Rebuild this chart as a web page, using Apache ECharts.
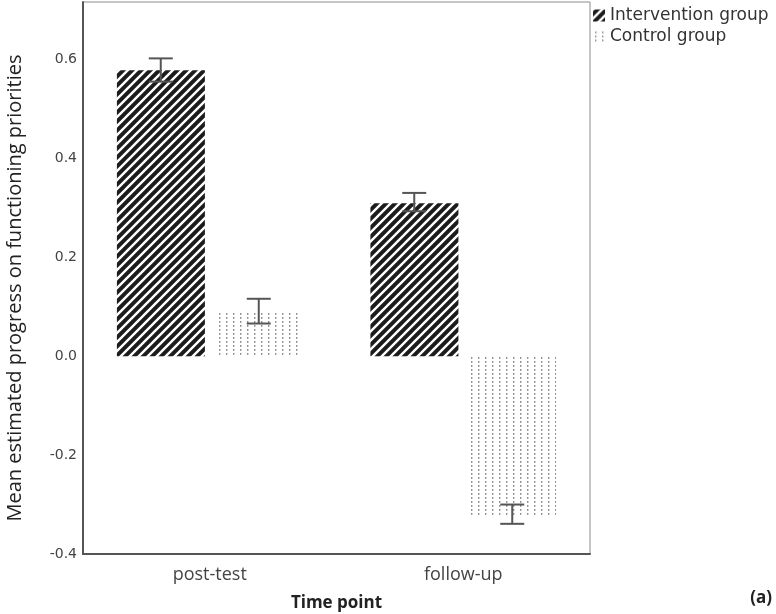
<!DOCTYPE html>
<html>
<head>
<meta charset="utf-8">
<script src="https://cdn.jsdelivr.net/npm/echarts@6/dist/echarts.min.js"></script>
<style>
  html, body { margin: 0; padding: 0; background: #fff; }
  #chart { width: 776px; height: 614px; }
</style>
</head>
<body>
<div id="chart"></div>
<script>
// values
var timePoints = ['post-test', 'follow-up']
var interventionMean = [0.578, 0.309]
var interventionLow = [0.555, 0.293]
var interventionHigh = [0.602, 0.330]
var controlMean = [0.090, -0.321]
var controlLow = [0.066, -0.339]
var controlHigh = [0.116, -0.300]
var yTicks = [-0.4, -0.2, 0.0, 0.2, 0.4, 0.6]

var BAR_W = 88
var BAR_OFFSET = 49 // half bar + half gap

function hatchPattern() {
  var s = 9
  var c = document.createElement('canvas')
  c.width = s
  c.height = s
  var ctx = c.getContext('2d')
  ctx.fillStyle = '#1c1c1c'
  ctx.fillRect(0, 0, s, s)
  ctx.strokeStyle = '#ffffff'
  ctx.lineWidth = 2.4
  ctx.beginPath()
  ctx.moveTo(0, s); ctx.lineTo(s, 0)
  ctx.moveTo(-2, 2); ctx.lineTo(2, -2)
  ctx.moveTo(s - 2, s + 2); ctx.lineTo(s + 2, s - 2)
  ctx.stroke()
  return c
}

function dotPattern() {
  var c = document.createElement('canvas')
  c.width = 7
  c.height = 4
  var ctx = c.getContext('2d')
  ctx.fillStyle = '#ffffff'
  ctx.fillRect(0, 0, 7, 4)
  ctx.fillStyle = '#8a8a8a'
  ctx.fillRect(2, 1, 1.4, 1.8)
  return c
}

var errData = []
timePoints.forEach(function (t, i) {
  errData.push([i, interventionLow[i], interventionHigh[i], -1])
  errData.push([i, controlLow[i], controlHigh[i], 1])
})

var chart = echarts.init(document.getElementById('chart'))
chart.setOption({
  backgroundColor: '#fff',
  animation: false,
  grid: {
    left: 83,
    right: 186,
    top: 2,
    bottom: 60,
    outerBoundsMode: 'none',
    containLabel: false,
    show: true,
    borderColor: '#8c8c8c',
    borderWidth: 1
  },
  legend: {
    data: ['Intervention group', 'Control group'],
    orient: 'vertical',
    left: 593,
    top: 7,
    padding: 0,
    itemWidth: 12,
    itemHeight: 12,
    itemGap: 4,
    icon: 'rect',
    textStyle: { fontFamily: 'DejaVu Sans', fontSize: 17, lineHeight: 17, color: '#333' }
  },
  xAxis: {
    type: 'category',
    data: timePoints,
    name: 'Time point',
    nameLocation: 'middle',
    nameGap: 41,
    nameTextStyle: { fontFamily: 'Open Sans', fontWeight: 'bold', fontSize: 17, color: '#222' },
    axisLine: { onZero: false, lineStyle: { color: '#555', width: 2 } },
    axisTick: { show: false },
    axisLabel: { fontFamily: 'Open Sans', fontSize: 18, color: '#444', margin: 12 }
  },
  yAxis: {
    type: 'value',
    min: -0.4,
    max: 0.716,
    interval: 0.2,
    axisLine: { show: true, lineStyle: { color: '#555', width: 2 } },
    axisTick: { show: false },
    splitLine: { show: false },
    axisLabel: {
      fontFamily: 'DejaVu Sans',
      fontSize: 14,
      color: '#444',
      margin: 6,
      showMaxLabel: false,
      formatter: function (v) {
        var hit = yTicks.some(function (t) { return Math.abs(t - v) < 1e-6 })
        return hit ? v.toFixed(1) : ''
      }
    }
  },
  series: [
    {
      name: 'Intervention group',
      type: 'bar',
      data: interventionMean,
      barWidth: BAR_W,
      barGap: '11%',
      itemStyle: { color: { image: hatchPattern(), repeat: 'repeat' } }
    },
    {
      name: 'Control group',
      type: 'bar',
      data: controlMean,
      barWidth: BAR_W,
      barGap: '11%',
      itemStyle: { color: { image: dotPattern(), repeat: 'repeat' } }
    },
    {
      name: 'errors',
      type: 'custom',
      z: 10,
      data: errData,
      encode: { x: 0, y: [1, 2] },
      renderItem: function (params, api) {
        var lo = api.coord([api.value(0), api.value(1)])
        var hi = api.coord([api.value(0), api.value(2)])
        var x = lo[0] + api.value(3) * BAR_OFFSET
        var cap = 12
        var style = { stroke: '#555', lineWidth: 2 }
        return {
          type: 'group',
          children: [
            { type: 'line', shape: { x1: x, y1: lo[1], x2: x, y2: hi[1] }, style: style },
            { type: 'line', shape: { x1: x - cap, y1: lo[1], x2: x + cap, y2: lo[1] }, style: style },
            { type: 'line', shape: { x1: x - cap, y1: hi[1], x2: x + cap, y2: hi[1] }, style: style }
          ]
        }
      }
    }
  ],
  graphic: [
    {
      type: 'text',
      x: 15,
      y: 288,
      rotation: Math.PI / 2,
      style: {
        text: 'Mean estimated progress on functioning priorities',
        font: '20px "Open Sans"',
        fill: '#222',
        textAlign: 'center',
        textVerticalAlign: 'middle'
      }
    },
    {
      type: 'text',
      right: 4,
      top: 590,
      style: { text: '(a)', font: 'bold 17px "Open Sans"', fill: '#222' }
    }
  ]
})
</script>
</body>
</html>
